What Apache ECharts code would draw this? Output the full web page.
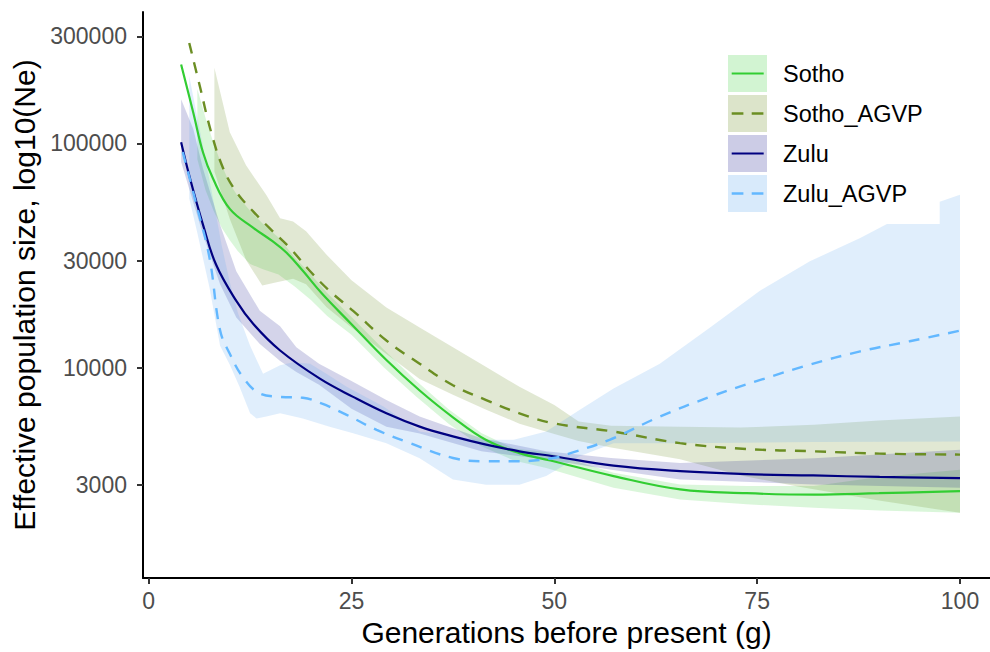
<!DOCTYPE html>
<html>
<head>
<meta charset="utf-8">
<script src="https://cdn.jsdelivr.net/npm/echarts@6/dist/echarts.min.js"></script>
<style>
  html, body { margin: 0; padding: 0; background: #ffffff; }
  #chart { width: 990px; height: 652px; }
</style>
</head>
<body>
<div id="chart"></div>
<script>
// Effective population size (Ne) by generations before present, [g, Ne]
const sothoLine = [
  [4.0, 225000], [5.5, 137000], [6.7, 91000], [7.9, 70000], [10, 51000], [12.9, 42000],
  [15.3, 36500], [17, 32500], [19, 27000], [21.3, 21500], [25, 15600], [29.3, 10800],
  [33.4, 7900], [37.5, 6000], [41.6, 4750], [45.7, 4150], [49.5, 3850], [57.3, 3280],
  [65.5, 2860], [73.7, 2750], [82, 2710], [90, 2750], [100, 2810]
];
const sothoAgvpLine = [
  [5.0, 280500], [6.3, 180300], [7.7, 112200], [9.2, 77100], [10.8, 60800], [12.9, 49600],
  [14.9, 41850], [17.4, 34150], [19.9, 26900], [22.3, 21970], [25.2, 17900], [29.3, 13200],
  [33.4, 10400], [37.5, 8340], [41.6, 7160], [45.7, 6250], [49.9, 5640], [57.3, 5180],
  [65.5, 4600], [73.7, 4330], [81.9, 4230], [90.1, 4130], [100, 4090]
];
const zuluLine = [
  [4.0, 101200], [5.1, 69700], [6.7, 43300], [8.3, 28800], [10.8, 19830], [12.9, 15630],
  [16.2, 11910], [21.1, 8920], [25.2, 7400], [29.3, 6250], [33.4, 5450], [37.5, 4930],
  [41.6, 4530], [45.7, 4230], [49.9, 4020], [57.3, 3650], [65.5, 3450], [73.7, 3345],
  [81.9, 3300], [90.1, 3250], [100, 3210]
];
const zuluAgvpLine = [
  [4.2, 91400], [5.9, 53000], [7.5, 30830], [8.8, 14650], [10, 11510], [11.6, 9080],
  [13.7, 7660], [16.2, 7400], [19, 7330], [21.3, 6920], [24.4, 6150], [28.1, 5270],
  [32.2, 4600], [37.5, 3950], [41.6, 3820], [45.7, 3820], [49.9, 3950], [52, 4150],
  [56.8, 4760], [63, 6040], [69.2, 7400], [75.3, 8780], [81.5, 10300], [87.7, 11800],
  [93.8, 13100], [100, 14600]
];

// Confidence bands: upper and lower edges, [g, Ne]
const sothoUpper = [
  [6, 175000], [7, 130000], [8, 100000], [9, 80000], [10, 66000], [11, 58000], [12.5, 50000],
  [14, 44000], [16, 38000], [18, 31000], [20, 26000], [22, 21500], [25, 16800], [29, 12000],
  [33, 8700], [37, 6500], [41, 5100], [45, 4350], [49, 4200], [57.3, 3390], [65.5, 3010],
  [73.7, 2960], [82, 2960], [90, 3250], [100, 3500]
];
const sothoLower = [
  [6, 85000], [7, 62000], [8, 50000], [9, 42000], [10, 37000], [11, 33000], [12.5, 29000],
  [14, 27500], [16, 26000], [18, 23000], [20, 20000], [22, 17000], [25, 14000], [29, 10000],
  [33, 7400], [37, 5600], [41, 4450], [45, 3850], [49, 3560], [57.3, 2910], [65.5, 2580],
  [73.7, 2455], [82, 2370], [90, 2300], [100, 2250]
];
const sothoAgvpUpper = [
  [8.1, 217500], [10, 112200], [12, 79800], [14.5, 58800], [16.2, 46300], [17.8, 44800],
  [19.4, 40500], [21.9, 31900], [25, 24500], [29.3, 18530], [33.4, 15100], [37.5, 12320],
  [41.6, 10050], [45.7, 8200], [50, 6800], [53, 5740], [57, 5500], [65.5, 5450],
  [73, 5400], [82, 5560], [90, 5800], [100, 6040]
];
const sothoAgvpLower = [
  [8.1, 75000], [10, 46000], [12, 30200], [14, 23200], [15.5, 23900], [17.8, 24900],
  [19.4, 23500], [21.9, 18600], [25, 15100], [29.3, 11480], [33.4, 8900], [37.5, 7560],
  [41.6, 6490], [45.7, 5620], [50, 5050], [53, 4700], [57, 4400], [65.5, 3900],
  [73, 3300], [80, 2950], [90, 2550], [100, 2250]
];
const zuluUpper = [
  [4, 157400], [5.5, 115900], [6.7, 77100], [8.8, 43300], [10.8, 26900], [13.7, 17900],
  [16.2, 15270], [18.2, 12320], [21, 10400], [25, 8710], [29.3, 7160], [33.4, 6040],
  [41, 4840], [49, 4230], [57, 3950], [65.5, 3750], [82, 3940], [100, 4300]
];
const zuluLower = [
  [4, 82600], [5.5, 54500], [6.7, 39100], [8.8, 23500], [10.8, 16700], [13.7, 12740],
  [16.2, 10690], [18.2, 9550], [21, 8370], [25, 6550], [29.3, 5450], [33.4, 5080],
  [41, 4230], [49, 3890], [57, 3500], [65.5, 3170], [82, 3010], [100, 2910]
];
const zuluAgvpUpper = [
  [5, 200000], [6, 130000], [7, 85000], [8, 55000], [9, 35000], [10, 24000], [11, 17500],
  [12.5, 12500], [14.1, 9390], [16.2, 10230], [17.8, 10570], [19.9, 10400], [21.9, 9390],
  [24.4, 8200], [29, 6690], [33.4, 5180], [40.8, 4760], [45, 4760], [49, 5180],
  [53.1, 6470], [57.3, 8060], [63, 10400], [69.2, 15100], [75.3, 21970], [81.5, 29800],
  [87.7, 37800], [91, 43700], [97.5, 43700], [97.5, 54900], [100, 59000]
];
const zuluAgvpLower = [
  [5, 56800], [6, 39800], [7.5, 22700], [8.8, 12500], [10, 10300], [11.2, 8200],
  [12.5, 6250], [13.3, 5930], [14.5, 6040], [16.2, 6250], [19, 5930], [22.3, 5450],
  [25.2, 5090], [29.3, 4600], [33.4, 3940], [37.5, 3170], [41.6, 3000], [45.7, 3000],
  [49, 3280], [53.1, 4020], [57.3, 4600], [65.5, 4600], [82, 4650], [100, 4680]
];

const groupNames = ['Sotho', 'Sotho_AGVP', 'Zulu', 'Zulu_AGVP'];
const yTickValues = [3000, 10000, 30000, 100000, 300000];
const xTickValues = [0, 25, 50, 75, 100];

// Styling per group
const lineColors = ['#32CD32', '#6B8E23', '#000080', '#63B8FF'];
const bandFills = ['rgba(50,205,50,0.18)', 'rgba(107,142,35,0.2)', 'rgba(0,0,128,0.17)', 'rgba(99,170,240,0.2)'];
const keyFills = ['rgba(50,205,50,0.22)', 'rgba(107,142,35,0.24)', 'rgba(0,0,128,0.2)', 'rgba(99,170,240,0.25)'];
const dashes = [null, [11, 9], null, [11, 9]];
const lineWidths = [2.2, 2.4, 2.2, 2.4];
const FONT = '"Liberation Sans", Arial, Helvetica, sans-serif';

const lg = v => Math.log10(v);
const toLog = pts => pts.map(p => [p[0], lg(p[1])]);

function bandSeries(name, upper, lower, fill) {
  const up = toLog(upper);
  const lo = toLog(lower).reverse();
  return {
    type: 'custom',
    name: name + ' band',
    clip: true,
    silent: true,
    z: 1,
    data: [up[0]],
    renderItem(params, api) {
      const pts = up.concat(lo).map(p => api.coord(p));
      return { type: 'polygon', shape: { points: pts }, style: { fill: fill, stroke: 'none' } };
    }
  };
}

function lineSeries(i, pts) {
  return {
    type: 'line',
    name: groupNames[i],
    data: toLog(pts),
    symbol: 'none',
    showSymbol: false,
    smooth: 0.4,
    silent: true,
    z: 3,
    lineStyle: { color: lineColors[i], width: lineWidths[i], type: dashes[i] || 'solid' }
  };
}

const bands = [[sothoUpper, sothoLower], [sothoAgvpUpper, sothoAgvpLower], [zuluUpper, zuluLower], [zuluAgvpUpper, zuluAgvpLower]];
const lines = [sothoLine, sothoAgvpLine, zuluLine, zuluAgvpLine];

const series = [];
bands.forEach((b, i) => series.push(bandSeries(groupNames[i], b[0], b[1], bandFills[i])));
lines.forEach((l, i) => series.push(lineSeries(i, l)));

// Legend keys drawn as graphic groups: shaded box with the line style on top
const legendGraphics = groupNames.map((name, i) => ({
  type: 'group',
  x: 728,
  y: 55 + i * 40,
  children: [
    { type: 'rect', shape: { x: 0, y: 0, width: 39, height: 37 }, style: { fill: keyFills[i] } },
    { type: 'line', shape: { x1: 3.7, y1: 18.5, x2: 35.7, y2: 18.5 },
      style: { stroke: lineColors[i], lineWidth: lineWidths[i], lineDash: dashes[i] ? [11.7, 8.3] : null } },
    { type: 'text', x: 55, y: 19,
      style: { text: name, fontSize: 23.5, fontFamily: FONT, fill: '#000000', align: 'left', verticalAlign: 'middle' } }
  ]
}));

const chart = echarts.init(document.getElementById('chart'), null, { renderer: 'svg' });
chart.setOption({
  animation: false,
  backgroundColor: '#ffffff',
  grid: { left: 143, right: 0, top: 12, bottom: 69, containLabel: false },
  xAxis: {
    type: 'value',
    min: -0.7,
    max: 103.7,
    name: 'Generations before present (g)',
    nameLocation: 'middle',
    nameGap: 30,
    nameTextStyle: { fontSize: 30, color: '#000000', fontFamily: FONT },
    axisLine: { show: true, onZero: false, lineStyle: { color: '#000000', width: 2 } },
    axisTick: { show: true, customValues: xTickValues, length: 6, lineStyle: { color: '#333333', width: 2 } },
    axisLabel: { customValues: xTickValues, margin: 11, fontSize: 23, color: '#4d4d4d', fontFamily: FONT },
    splitLine: { show: false }
  },
  yAxis: {
    type: 'value',
    min: lg(1150),
    max: lg(385500),
    name: 'Effective population size, log10(Ne)',
    nameLocation: 'middle',
    nameGap: 99,
    nameRotate: 90,
    nameTextStyle: { fontSize: 30, color: '#000000', fontFamily: FONT },
    axisLine: { show: true, onZero: false, lineStyle: { color: '#000000', width: 2 } },
    axisTick: { show: true, customValues: yTickValues.map(lg), length: 6, lineStyle: { color: '#333333', width: 2 } },
    axisLabel: {
      customValues: yTickValues.map(lg),
      formatter: v => String(Math.round(Math.pow(10, v))),
      margin: 16, fontSize: 23, color: '#4d4d4d', fontFamily: FONT
    },
    splitLine: { show: false }
  },
  series: series,
  graphic: legendGraphics
});
</script>
</body>
</html>
